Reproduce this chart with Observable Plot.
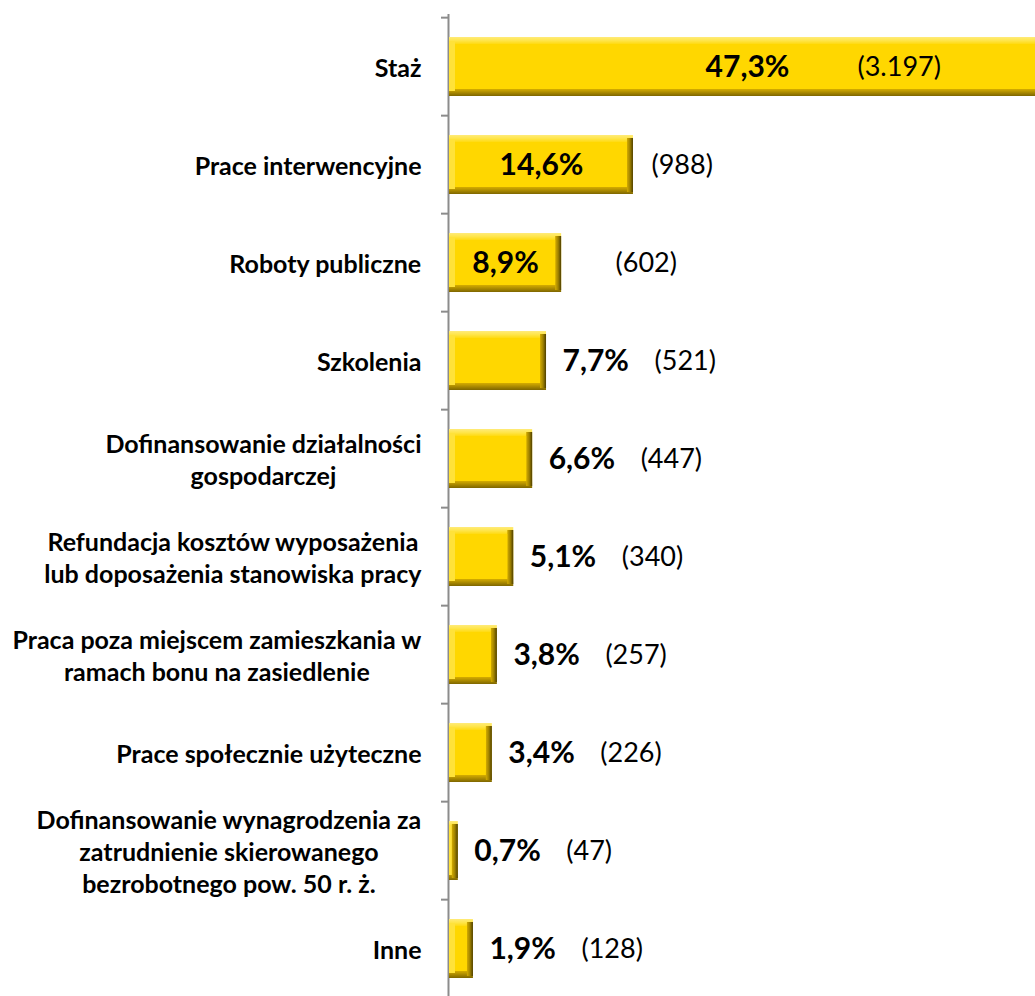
<!DOCTYPE html>
<html>
<head>
<meta charset="utf-8">
<script src="https://cdn.jsdelivr.net/npm/d3@7"></script>
<script src="https://cdn.jsdelivr.net/npm/@observablehq/plot@0.6"></script>
<style>
  html, body { margin: 0; padding: 0; background: #fff; overflow: hidden; }
</style>
</head>
<body>
<div id="chart"></div>
<script>
const categories = [
  "Staż",
  "Prace interwencyjne",
  "Roboty publiczne",
  "Szkolenia",
  "Dofinansowanie działalności\ngospodarczej",
  "Refundacja kosztów wyposażenia\nlub doposażenia stanowiska pracy",
  "Praca poza miejscem zamieszkania w\nramach bonu na zasiedlenie",
  "Prace społecznie użyteczne",
  "Dofinansowanie wynagrodzenia za\nzatrudnienie skierowanego\nbezrobotnego pow. 50 r. ż.",
  "Inne"
];
const percents = [47.3, 14.6, 8.9, 7.7, 6.6, 5.1, 3.8, 3.4, 0.7, 1.9];
const counts = [3197, 988, 602, 521, 447, 340, 257, 226, 47, 128];

const W = 1035, H = 996;
const xRange = [449, 1045];
const yRange = [14, 1001];
const k = (xRange[1] - xRange[0]) / 47.3;           // px per percentage point
const step = (yRange[1] - yRange[0]) / categories.length;

const FONT = "Lato, Carlito, 'Open Sans', sans-serif";
const catSize = 25, pctSize = 30, cntSize = 27;

const canvas = document.createElement("canvas");
const ctx = canvas.getContext("2d");
ctx.font = `bold ${catSize}px Lato`;

const pl = d3.formatLocale({decimal: ",", thousands: ".", grouping: [3], currency: ["", ""]});
const fmtPct = v => pl.format(".1f")(v) + "%";
const fmtCnt = v => "(" + pl.format(",")(v) + ")";

const data = categories.map((c, i) => {
  const lines = c.split("\n");
  const maxW = d3.max(lines, l => ctx.measureText(l).width);
  return {cat: c, pct: percents[i], cnt: counts[i], maxW};
});

const bev = 6 / k;
const inside = d => d.pct * k > 100;

const plot = Plot.plot({
  width: W,
  height: H,
  marginTop: 14,
  marginBottom: 0,
  marginLeft: 0,
  marginRight: 0,
  style: {fontFamily: FONT, overflow: "hidden", background: "#fff"},
  x: {domain: [0, 47.3], range: xRange, axis: null},
  y: {domain: categories, range: yRange, paddingInner: 0.4, paddingOuter: 0.2, axis: null},
  marks: [
    // axis line and ticks
    Plot.ruleX([0], {stroke: "#8c8c8c", strokeWidth: 2, dx: -1}),
    Plot.ruleY(data, {y: "cat", x1: -7 / k, x2: 0, dx: -1, dy: -step / 2, stroke: "#8c8c8c", strokeWidth: 2}),
    // bevelled bars
    Plot.barX(data, {y: "cat", x1: 0, x2: "pct", fill: "url(#gV)"}),
    Plot.barX(data, {y: "cat", x1: 0, x2: d => Math.min(d.pct, bev), insetTop: 5, insetBottom: 5, fill: "#FFE23A"}),
    Plot.barX(data, {y: "cat", x1: d => Math.max(0, d.pct - bev), x2: "pct", insetTop: 3, insetBottom: 2, fill: "url(#gH)"}),
    Plot.barX(data.filter(d => d.pct * k > 14), {y: "cat", x1: 0, x2: "pct", insetLeft: 6, insetRight: 6, insetTop: 7, insetBottom: 7, fill: "#FFD700"}),
    // category labels
    Plot.text(data, {
      y: "cat", x: d => -(28 + d.maxW / 2) / k, text: "cat",
      textAnchor: "middle", fontWeight: "bold", fontSize: catSize, lineHeight: 1.27, fill: "#000"
    }),
    // percentage labels
    Plot.text(data.filter(inside), {y: "cat", x: d => d.pct / 2, text: d => fmtPct(d.pct), textAnchor: "middle", fontWeight: "bold", fontSize: pctSize, fill: "#000"}),
    Plot.text(data.filter(d => !inside(d)), {y: "cat", x: "pct", dx: 16, text: d => fmtPct(d.pct), textAnchor: "start", fontWeight: "bold", fontSize: pctSize, fill: "#000"}),
    // count labels
    Plot.text(data.filter(inside), {y: "cat", x: d => d.pct / 2, dx: 110, text: d => fmtCnt(d.cnt), textAnchor: "start", fontSize: cntSize, fill: "#000"}),
    Plot.text(data.filter(d => !inside(d)), {y: "cat", x: "pct", dx: 108, text: d => fmtCnt(d.cnt), textAnchor: "start", fontSize: cntSize, fill: "#000"})
  ]
});

const ns = "http://www.w3.org/2000/svg";
const defs = document.createElementNS(ns, "defs");
defs.innerHTML = `
  <linearGradient id="gV" x1="0" y1="0" x2="0" y2="1">
    <stop offset="0" stop-color="#FFEB7A"/>
    <stop offset="0.06" stop-color="#FFE54A"/>
    <stop offset="0.12" stop-color="#FFDA10"/>
    <stop offset="0.82" stop-color="#F5CC00"/>
    <stop offset="0.9" stop-color="#C9A200"/>
    <stop offset="1" stop-color="#7E6600"/>
  </linearGradient>
  <linearGradient id="gH" x1="0" y1="0" x2="1" y2="0">
    <stop offset="0" stop-color="#D4AC00"/>
    <stop offset="0.5" stop-color="#A08200"/>
    <stop offset="1" stop-color="#4E3F00"/>
  </linearGradient>`;
plot.insertBefore(defs, plot.firstChild);

document.getElementById("chart").appendChild(plot);
</script>
</body>
</html>
